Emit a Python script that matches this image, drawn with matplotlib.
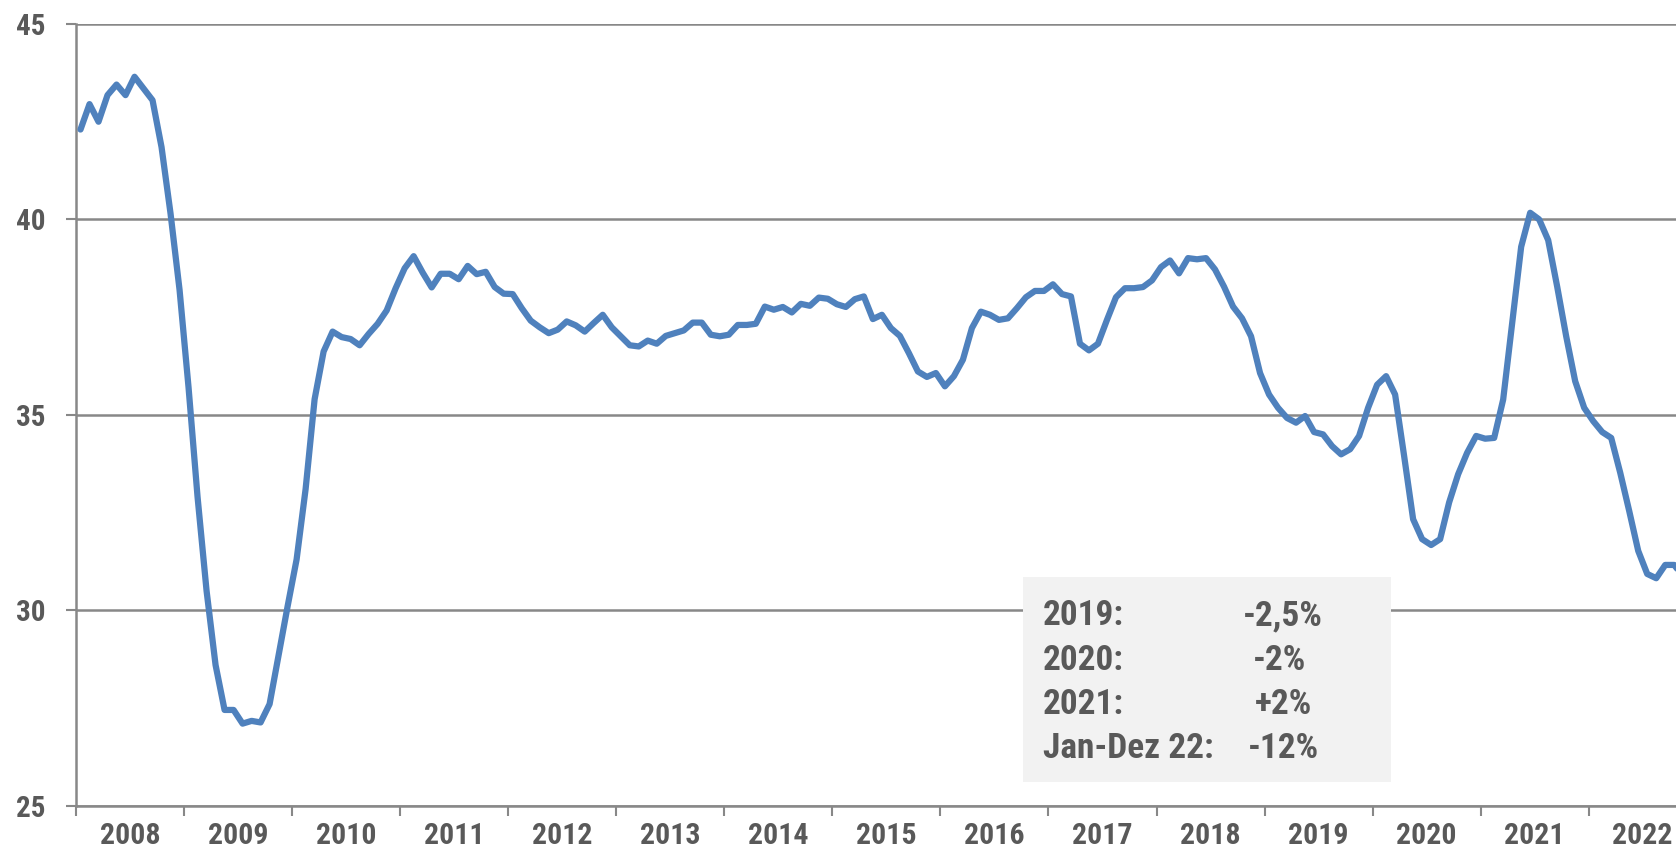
import matplotlib
matplotlib.use("Agg")
import matplotlib.pyplot as plt
from matplotlib import font_manager as fm
from matplotlib.patches import Rectangle
import numpy as np

# ---------------- data ----------------
start_year = 2008
years = ["2008", "2009", "2010", "2011", "2012", "2013", "2014", "2015",
         "2016", "2017", "2018", "2019", "2020", "2021", "2022"]
y_ticks = [25, 30, 35, 40, 45]

v2008 = [42.30, 42.95, 42.50, 43.18, 43.45, 43.18, 43.65, 43.35, 43.05, 41.85, 40.15, 38.20]
v2009 = [35.70, 32.90, 30.50, 28.60, 27.45, 27.45, 27.10, 27.17, 27.13, 27.60, 28.85, 30.10]
v2010 = [31.30, 33.10, 35.40, 36.62, 37.13, 36.99, 36.94, 36.78, 37.07, 37.33, 37.67, 38.24]
v2011 = [38.75, 39.06, 38.64, 38.26, 38.61, 38.61, 38.47, 38.81, 38.60, 38.66, 38.27, 38.10]
v2012 = [38.09, 37.73, 37.41, 37.24, 37.09, 37.18, 37.39, 37.29, 37.13, 37.35, 37.56, 37.24]
v2013 = [37.01, 36.78, 36.75, 36.90, 36.82, 37.02, 37.09, 37.16, 37.36, 37.36, 37.05, 37.01]
v2014 = [37.05, 37.30, 37.30, 37.33, 37.77, 37.69, 37.76, 37.62, 37.84, 37.79, 38.00, 37.97]
v2015 = [37.83, 37.76, 37.96, 38.03, 37.45, 37.56, 37.22, 37.02, 36.58, 36.11, 35.97, 36.07]
v2016 = [35.73, 35.99, 36.41, 37.22, 37.64, 37.56, 37.43, 37.47, 37.73, 38.01, 38.17, 38.17]
v2017 = [38.34, 38.09, 38.03, 36.82, 36.65, 36.82, 37.43, 38.01, 38.24, 38.24, 38.27, 38.44]
v2018 = [38.78, 38.95, 38.62, 39.01, 38.98, 39.01, 38.72, 38.28, 37.77, 37.47, 37.01, 36.07]
v2019 = [35.52, 35.18, 34.92, 34.80, 34.97, 34.56, 34.50, 34.20, 33.99, 34.12, 34.46, 35.18]
v2020 = [35.77, 35.99, 35.52, 33.95, 32.33, 31.82, 31.67, 31.82, 32.76, 33.48, 34.03, 34.46]
v2021 = [34.39, 34.41, 35.39, 37.35, 39.30, 40.17, 40.00, 39.47, 38.28, 37.01, 35.86, 35.18]
v2022 = [34.84, 34.56, 34.41, 33.52, 32.54, 31.52, 30.93, 30.82, 31.16, 31.16, 30.85]

values = (v2008 + v2009 + v2010 + v2011 + v2012 + v2013 + v2014 + v2015 +
          v2016 + v2017 + v2018 + v2019 + v2020 + v2021 + v2022)

box_labels = ["2019:", "2020:", "2021:", "Jan-Dez 22:"]
box_values = ["-2,5%", "-2%", "+2%", "-12%"]

# ---------------- style ----------------
names = {f.name for f in fm.fontManager.ttflist}
FONT = "DejaVu Sans"
for cand in ["Liberation Sans Narrow", "Arial Narrow", "Roboto Condensed",
             "Liberation Sans", "Arial"]:
    if cand in names:
        FONT = cand
        break
plt.rcParams["font.family"] = [FONT, "DejaVu Sans"]

TXT = "#595959"
GRID = "#888888"
LINE = "#4F81BD"

W, H = 1676, 858
fig = plt.figure(figsize=(W / 100, H / 100), dpi=100)

# axes in pixel coords (extends beyond right edge like the cropped original)
ax_left, ax_right = 76, 76 + 15 * 108.05
ax_top, ax_bottom = 24, 805.7
ax = fig.add_axes([ax_left / W, 1 - ax_bottom / H,
                   (ax_right - ax_left) / W, (ax_bottom - ax_top) / H])

n_months = 12 * len(years)
x = np.arange(len(values)) + 0.5
ax.plot(x, values, color=LINE, lw=4.5, solid_joinstyle="round",
        solid_capstyle="round", zorder=3, clip_on=False)

ax.set_xlim(0, n_months)
ax.set_ylim(25, 45)

# y axis
ax.set_yticks(y_ticks)
ax.set_yticklabels([str(t) for t in y_ticks])
ax.yaxis.grid(True, color=GRID, lw=1.8)
ax.set_axisbelow(True)
ax.tick_params(axis="y", direction="out", length=7, width=1.5, color=GRID,
               pad=15, labelsize=21, labelcolor=TXT)

# x axis: ticks at year boundaries, labels centred in each year
ax.set_xticks(np.arange(0, n_months + 1, 12))
ax.set_xticklabels([])
ax.set_xticks(np.arange(6, n_months, 12), minor=True)
ax.set_xticklabels(years, minor=True)
ax.tick_params(axis="x", which="major", direction="out", length=7, width=1.5,
               color=GRID)
ax.tick_params(axis="x", which="minor", length=0, pad=12, labelsize=21.5,
               labelcolor=TXT)
for lab in ax.get_xticklabels(minor=True) + ax.get_yticklabels():
    lab.set_fontweight("bold")

for s in ["top", "right"]:
    ax.spines[s].set_visible(False)
for s in ["left", "bottom"]:
    ax.spines[s].set_color(GRID)
    ax.spines[s].set_linewidth(1.8)

# summary box
bx0, bx1, by0, by1 = 1023, 1391, 577, 782
fig.patches.append(Rectangle((bx0 / W, 1 - by1 / H), (bx1 - bx0) / W,
                             (by1 - by0) / H, transform=fig.transFigure,
                             facecolor="#F2F2F2", edgecolor="none", zorder=2))
line_y = [615.5, 660, 704.7, 749]
val_cx = [1283, 1279, 1283, 1283]
for lab, val, yy, cx in zip(box_labels, box_values, line_y, val_cx):
    fig.text(1043 / W, 1 - yy / H, lab, ha="left", va="center",
             fontsize=25.5, fontweight="bold", color=TXT, zorder=5)
    fig.text(cx / W, 1 - yy / H, val, ha="center", va="center",
             fontsize=25.5, fontweight="bold", color=TXT, zorder=5)

fig.savefig("out.png", dpi=100)
